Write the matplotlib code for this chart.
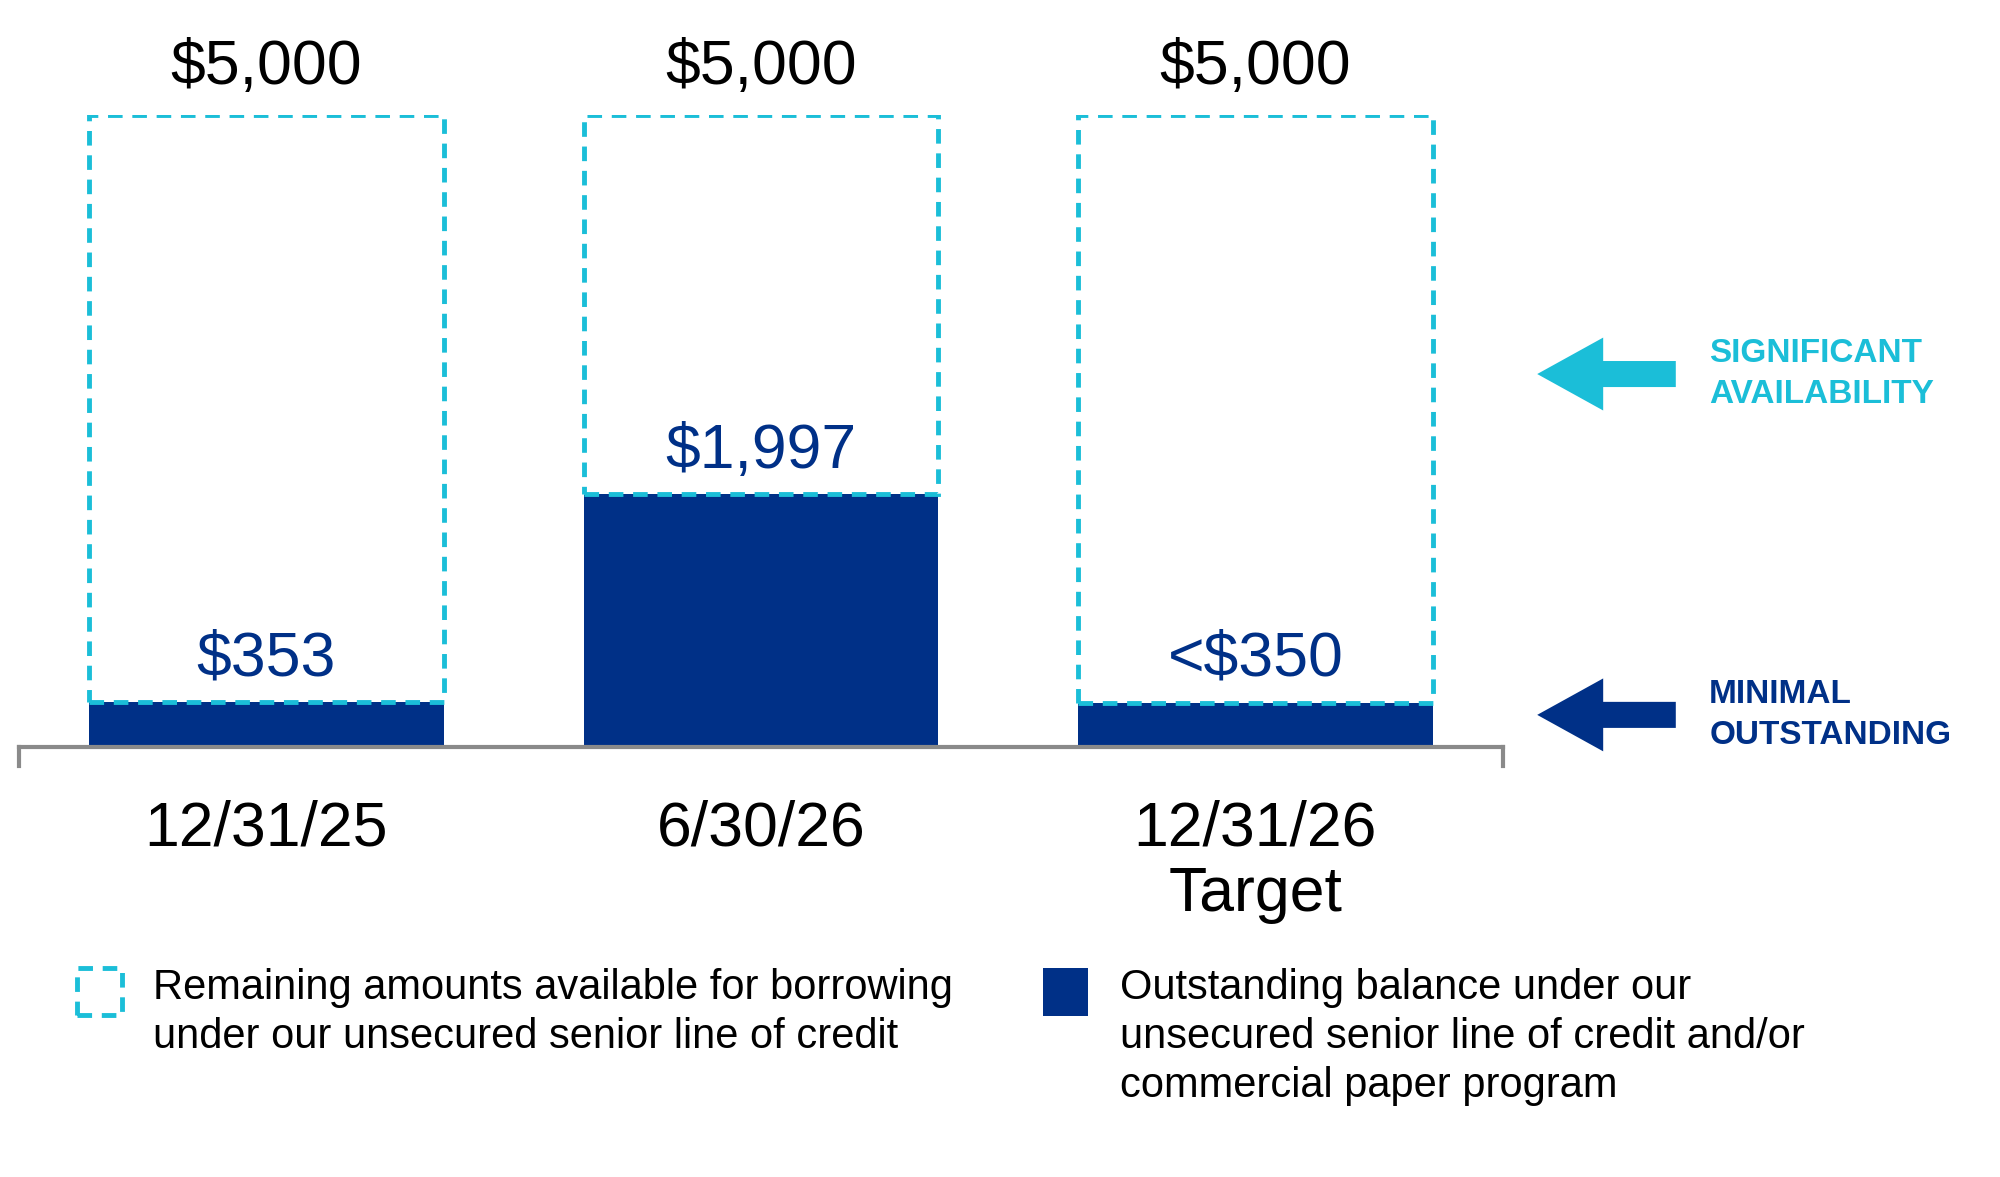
import matplotlib
matplotlib.use("Agg")
import matplotlib.pyplot as plt
from matplotlib.patches import Rectangle

categories = ["12/31/25", "6/30/26", "12/31/26\nTarget"]
outstanding = [353, 1997, 350]
capacity = [5000, 5000, 5000]
out_labels = ["$353", "$1,997", "<$350"]
cap_labels = ["$5,000", "$5,000", "$5,000"]

NAVY = "#003087"
CYAN = "#1BBED8"
plt.rcParams['font.family'] = ['Liberation Sans', 'DejaVu Sans']

W, H = 1568, 922
fig = plt.figure(figsize=(20, 11.77), dpi=100)
ax = fig.add_axes([15/W, 1-585/H, 1163/W, 495/H])
ax.set_xlim(-0.5, 2.5)
ax.set_ylim(0, 5000)
x = list(range(len(categories)))
bw = 0.717
ax.bar(x, outstanding, width=bw, color=NAVY, zorder=2)
rem = [c - o for c, o in zip(capacity, outstanding)]
ax.bar(x, rem, bottom=outstanding, width=bw, facecolor="none", edgecolor=CYAN,
       linestyle=(0, (3, 2)), linewidth=3.5, zorder=3)
for i in x:
    ax.text(i, capacity[i] + 140, cap_labels[i], ha="center", va="bottom", fontsize=45, color="black", clip_on=False)
    ax.text(i, outstanding[i] + 110, out_labels[i], ha="center", va="bottom", fontsize=45, color=NAVY)
for s in ["top", "left", "right"]:
    ax.spines[s].set_visible(False)
ax.spines["bottom"].set_color("#8a8a8a")
ax.spines["bottom"].set_linewidth(3)
ax.set_yticks([])
ax.set_xticks(x)
ax.set_xticklabels(categories, fontsize=45, linespacing=1.15)
ax.tick_params(axis="x", length=0, pad=38)
for xe in (0, 1):
    ax.plot([xe, xe], [0, -0.03], transform=ax.transAxes, color="#8a8a8a", lw=3, clip_on=False)

def fx(px): return px / W
def fy(py): return 1 - py / H

for yy, col, lines in [(293, CYAN, "SIGNIFICANT\nAVAILABILITY"), (560, NAVY, "MINIMAL\nOUTSTANDING")]:
    ax.annotate("", xy=(fx(1203), fy(yy)), xytext=(fx(1316), fy(yy)),
                xycoords="figure fraction", textcoords="figure fraction",
                arrowprops=dict(arrowstyle="simple,head_length=1.9,head_width=2.1,tail_width=0.75",
                                mutation_scale=25, color=col, lw=0))
    fig.text(fx(1340), fy(yy), lines, color=col, fontsize=24, fontweight="bold",
             ha="left", va="center", linespacing=1.4)

fig.patches.append(Rectangle((fx(60), fy(795)), fx(96)-fx(60), fy(758)-fy(795),
                             transform=fig.transFigure, facecolor="none", edgecolor=CYAN,
                             linestyle=(0, (3, 2)), linewidth=3.5))
fig.patches.append(Rectangle((fx(818), fy(796)), fx(853)-fx(818), fy(758)-fy(796),
                             transform=fig.transFigure, facecolor=NAVY, edgecolor="none"))
fig.text(fx(120), fy(758), "Remaining amounts available for borrowing\nunder our unsecured senior line of credit",
         fontsize=30, va="top", ha="left", linespacing=1.3)
fig.text(fx(878), fy(758), "Outstanding balance under our\nunsecured senior line of credit and/or\ncommercial paper program",
         fontsize=30, va="top", ha="left", linespacing=1.3)

fig.savefig("out.png", dpi=100, facecolor="white")
